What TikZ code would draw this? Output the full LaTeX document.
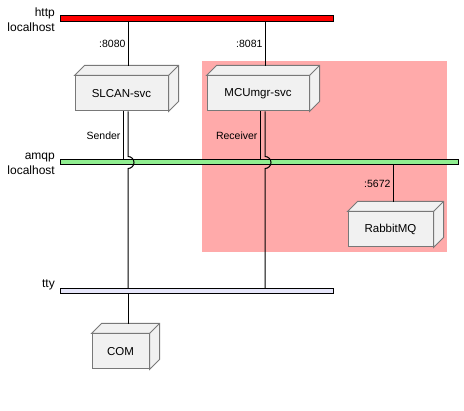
\documentclass[tikz,border=0pt]{standalone}
\usepackage{fontspec}
\setmainfont{Liberation Sans}
\usetikzlibrary{calc}
\definecolor{pinkzone}{RGB}{255,170,170}
\definecolor{boxfill}{RGB}{241,241,241}
\definecolor{boxline}{RGB}{120,120,120}
\definecolor{httpred}{RGB}{255,0,0}
\definecolor{amqpgreen}{RGB}{144,238,144}
\definecolor{ttyblue}{RGB}{230,230,250}
\tikzset{
  bar/.style={draw=black, line width=1pt, inner sep=0pt, minimum height=#1},
  bar/.default=5,
  svcbox/.style={draw=boxline, fill=boxfill, line width=1pt, inner sep=0pt,
    minimum height=35, font=\fontsize{11.5}{13}\selectfont},
  face/.style={draw=boxline, fill=boxfill, line width=1pt, line join=miter},
  link/.style={draw=black, line width=1pt},
  lbl/.style={font=\fontsize{10.5}{12}\selectfont, inner sep=2pt},
  netlbl/.style={font=\fontsize{12}{15}\selectfont, align=right, inner sep=0pt, anchor=east}
}
\newcommand{\boxfaces}[1]{%
  \path[face] (#1.north west) -- ++(10,-10) -| ($(#1.south east)+(10,-10)$) -- (#1.south east) -- (#1.north east) -- cycle;
  \draw[face] (#1.north east) -- ++(10,-10);}
\begin{document}
\begin{tikzpicture}[x=1pt, y=-1pt]
\useasboundingbox (0,0) rectangle (464,411);
\fill[white] (0,0) rectangle (464,411);
% zone
\fill[pinkzone] (202,61) rectangle (447,252);

% networks
\node[bar=6, fill=httpred, minimum width=273] (http) at (196.5,19) {};
\node[bar, fill=amqpgreen, minimum width=398] (amqp) at (259,162.5) {};
\node[bar, fill=ttyblue, minimum width=273] (tty) at (196.5,291.5) {};
\node[netlbl] (httplbl) at (55,20) {http\\localhost};
\node[netlbl] (amqplbl) at (55,163.5) {amqp\\localhost};
\node[netlbl] (ttylbl) at (55,285) {tty};

% boxes
\node[svcbox, minimum width=93] (slcan) at (121.5,93.5) {SLCAN-svc};
\boxfaces{slcan}
\node[svcbox, minimum width=102] (mcu) at (258,93.5) {MCUmgr-svc};
\boxfaces{mcu}
\node[svcbox, minimum width=85] (rabbit) at (390.5,229.5) {RabbitMQ};
\boxfaces{rabbit}
\node[svcbox, minimum width=57] (com) at (120.5,351.5) {COM};
\boxfaces{com}

% port points
\coordinate (slcantop) at (128,66);
\coordinate (mcutop) at (265,66);
\coordinate (rabbittop) at (393,202);
\coordinate (comtop) at (128,324);
\coordinate (slcansend) at (123,0);
\coordinate (mcurecv) at (260,0);

% http links
\draw[link] (slcantop |- http.south) -- (slcantop) node[lbl, midway, left] {:8080};
\draw[link] (mcutop |- http.south) -- (mcutop) node[lbl, midway, left] {:8081};

% amqp links
\draw[link] (slcansend |- slcan.south) -- (slcansend |- amqp.north) node[lbl, midway, left] {Sender};
\draw[link] (mcurecv |- mcu.south) -- (mcurecv |- amqp.north) node[lbl, midway, left] {Receiver};
\draw[link] (rabbittop |- amqp.south) -- (rabbittop) node[lbl, midway, left] {:5672};

% tty links with jumps over amqp
\draw[link] (slcantop |- slcan.south) -- ($(slcantop |- amqp.center)+(0,-6)$)
  arc[start angle=-90, end angle=90, radius=6] -- (slcantop |- tty.north);
\draw[link] (mcutop |- mcu.south) -- ($(mcutop |- amqp.center)+(0,-6)$)
  arc[start angle=-90, end angle=90, radius=6] -- (mcutop |- tty.north);
\draw[link] (comtop |- tty.south) -- (comtop);
\end{tikzpicture}
\end{document}
